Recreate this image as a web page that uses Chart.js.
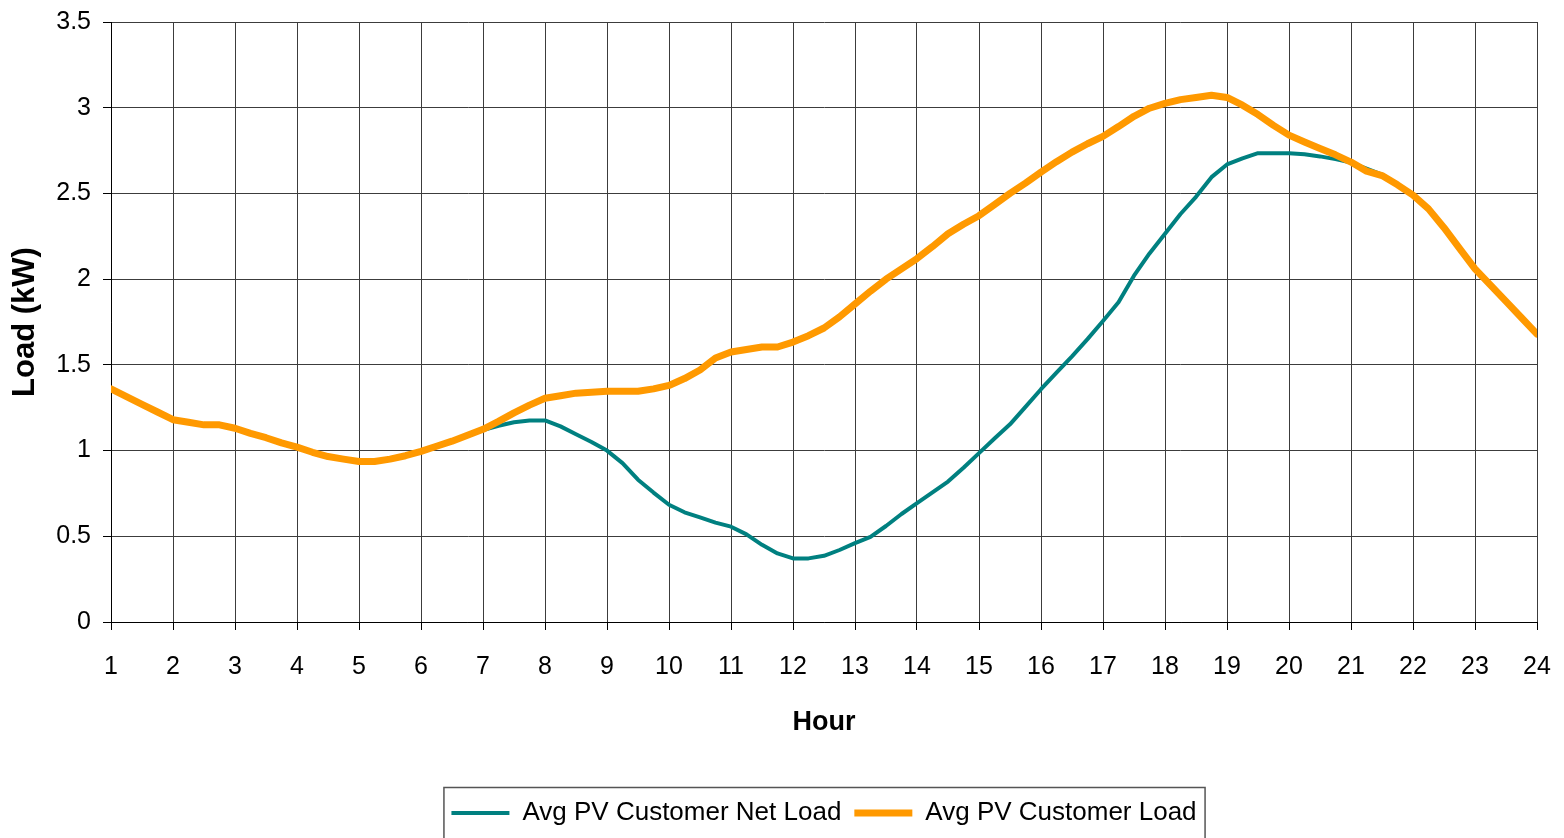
<!DOCTYPE html>
<html>
<head>
<meta charset="utf-8">
<script src="https://cdn.jsdelivr.net/npm/chart.js@4/dist/chart.umd.min.js"></script>
<style>
  html, body { margin: 0; padding: 0; background: #fff; }
  #wrap { width: 1564px; height: 838px; }
</style>
</head>
<body>
<div id="wrap"><canvas id="loadChart" width="1564" height="838"></canvas></div>
<script>
// 15-minute samples, hour 1 .. 24
const hours = [
  1, 1.25, 1.5, 1.75, 2, 2.25, 2.5, 2.75, 3, 3.25, 3.5, 3.75,
  4, 4.25, 4.5, 4.75, 5, 5.25, 5.5, 5.75, 6, 6.25, 6.5, 6.75,
  7, 7.25, 7.5, 7.75, 8, 8.25, 8.5, 8.75, 9, 9.25, 9.5, 9.75,
  10, 10.25, 10.5, 10.75, 11, 11.25, 11.5, 11.75, 12, 12.25, 12.5, 12.75,
  13, 13.25, 13.5, 13.75, 14, 14.25, 14.5, 14.75, 15, 15.25, 15.5, 15.75,
  16, 16.25, 16.5, 16.75, 17, 17.25, 17.5, 17.75, 18, 18.25, 18.5, 18.75,
  19, 19.25, 19.5, 19.75, 20, 20.25, 20.5, 20.75, 21, 21.25, 21.5, 21.75,
  22, 22.25, 22.5, 22.75, 23, 23.25, 23.5, 23.75, 24
];

// Avg PV Customer Net Load (kW)
const netLoad = [
  1.36, 1.315, 1.27, 1.225, 1.18, 1.165, 1.15, 1.15, 1.13, 1.10, 1.075, 1.045,
  1.02, 0.99, 0.965, 0.95, 0.936, 0.936, 0.95, 0.97, 0.995, 1.025, 1.055, 1.09,
  1.12, 1.145, 1.165, 1.176, 1.176, 1.141, 1.095, 1.05, 1.0, 0.927, 0.83, 0.755,
  0.684, 0.64, 0.61, 0.58, 0.556, 0.511, 0.45, 0.40, 0.371, 0.371, 0.386, 0.42,
  0.46, 0.497, 0.56, 0.63, 0.693, 0.756, 0.819, 0.90, 0.985, 1.07, 1.153, 1.255,
  1.358, 1.455, 1.55, 1.65, 1.756, 1.865, 2.02, 2.15, 2.265, 2.38, 2.48, 2.595,
  2.669, 2.705, 2.735, 2.735, 2.735, 2.728, 2.716, 2.70, 2.68, 2.645, 2.61, 2.555,
  2.49, 2.41, 2.30, 2.18, 2.06, 1.965, 1.87, 1.775, 1.68
];

// Avg PV Customer Load (kW)
const customerLoad = [
  1.36, 1.315, 1.27, 1.225, 1.18, 1.165, 1.15, 1.15, 1.13, 1.10, 1.075, 1.045,
  1.02, 0.99, 0.965, 0.95, 0.936, 0.936, 0.95, 0.97, 0.995, 1.025, 1.055, 1.09,
  1.124, 1.17, 1.22, 1.265, 1.305, 1.32, 1.335, 1.34, 1.346, 1.346, 1.346, 1.36,
  1.38, 1.42, 1.47, 1.54, 1.575, 1.59, 1.604, 1.604, 1.633, 1.67, 1.715, 1.78,
  1.855, 1.93, 2.0, 2.06, 2.12, 2.19, 2.265, 2.32, 2.37, 2.435, 2.5, 2.56,
  2.624, 2.685, 2.741, 2.79, 2.833, 2.89, 2.95, 2.997, 3.025, 3.047, 3.06, 3.073,
  3.06, 3.015, 2.96, 2.897, 2.84, 2.80, 2.762, 2.725, 2.683, 2.63, 2.604, 2.55,
  2.49, 2.41, 2.30, 2.18, 2.06, 1.965, 1.87, 1.775, 1.68
];

const seriesNames = ['Avg PV Customer Net Load', 'Avg PV Customer Load'];
const seriesColors = ['#008080', '#FF9900'];

const toPoints = vals => hours.map((h, i) => ({ x: h, y: vals[i] }));

// box drawn round the legend, like the spreadsheet original
const legendBorder = {
  id: 'legendBorder',
  afterDraw(chart) {
    const lg = chart.legend;
    if (!lg || !lg.legendHitBoxes || !lg.legendHitBoxes.length) return;
    const boxes = lg.legendHitBoxes;
    const left = Math.min(...boxes.map(b => b.left)) - 8;
    const right = Math.max(...boxes.map(b => b.left + b.width)) + 8;
    const ctx = chart.ctx;
    ctx.save();
    ctx.strokeStyle = '#555';
    ctx.lineWidth = 1.5;
    ctx.strokeRect(left + 0.5, lg.top + 0.5, right - left, chart.height - lg.top + 10);
    ctx.restore();
  }
};

const tickFont = { family: "'Liberation Sans', Arial, sans-serif", size: 25 };
const gridColor = '#3c3c3c';

new Chart(document.getElementById('loadChart').getContext('2d'), {
  type: 'line',
  data: {
    datasets: [
      {
        label: seriesNames[0],
        data: toPoints(netLoad),
        borderColor: seriesColors[0],
        backgroundColor: seriesColors[0],
        borderWidth: 4,
        order: 1
      },
      {
        label: seriesNames[1],
        data: toPoints(customerLoad),
        borderColor: seriesColors[1],
        backgroundColor: seriesColors[1],
        borderWidth: 7,
        order: 0
      }
    ]
  },
  options: {
    responsive: false,
    animation: false,
    layout: { padding: { left: 0, right: 27, top: 22, bottom: 2 } },
    elements: {
      point: { radius: 0, hoverRadius: 0 },
      line: { tension: 0, fill: false, borderCapStyle: 'round', borderJoinStyle: 'round' }
    },
    scales: {
      x: {
        type: 'linear',
        min: 1,
        max: 24,
        // fixed band under the plot; no extra edge padding from the labels
        afterFit: s => { s.height = 165; s.paddingLeft = 0; s.paddingRight = 0; },
        ticks: { stepSize: 1, color: '#000', font: tickFont, padding: 22, maxRotation: 0, autoSkip: false },
        grid: { color: gridColor, lineWidth: 1, tickLength: 8, tickColor: '#000' },
        border: { color: '#000', width: 1 },
        title: {
          display: true,
          text: 'Hour',
          color: '#000',
          font: { family: "'Liberation Sans', Arial, sans-serif", size: 27, weight: 'bold' },
          padding: { top: 0, bottom: 48 }
        }
      },
      y: {
        min: 0,
        max: 3.5,
        afterFit: s => { s.width = 111; s.paddingTop = 0; s.paddingBottom = 0; },
        ticks: { stepSize: 0.5, color: '#000', font: tickFont, padding: 12, callback: v => String(+v.toFixed(2)) },
        grid: { color: gridColor, lineWidth: 1, tickLength: 8, tickColor: '#000' },
        border: { color: '#000', width: 1 },
        title: {
          display: true,
          text: 'Load (kW)',
          color: '#000',
          font: { family: "'Liberation Sans', Arial, sans-serif", size: 31, weight: 'bold' },
          padding: { top: 7, bottom: 0 }
        }
      }
    },
    plugins: {
      tooltip: { enabled: false },
      legend: {
        position: 'bottom',
        fullSize: false,
        labels: {
          usePointStyle: true,
          pointStyle: 'line',
          pointStyleWidth: 58,
          padding: 13,
          color: '#000',
          font: { family: "'Liberation Sans', Arial, sans-serif", size: 26 },
          sort: (a, b) => a.datasetIndex - b.datasetIndex
        }
      }
    }
  },
  plugins: [legendBorder]
});
</script>
</body>
</html>
